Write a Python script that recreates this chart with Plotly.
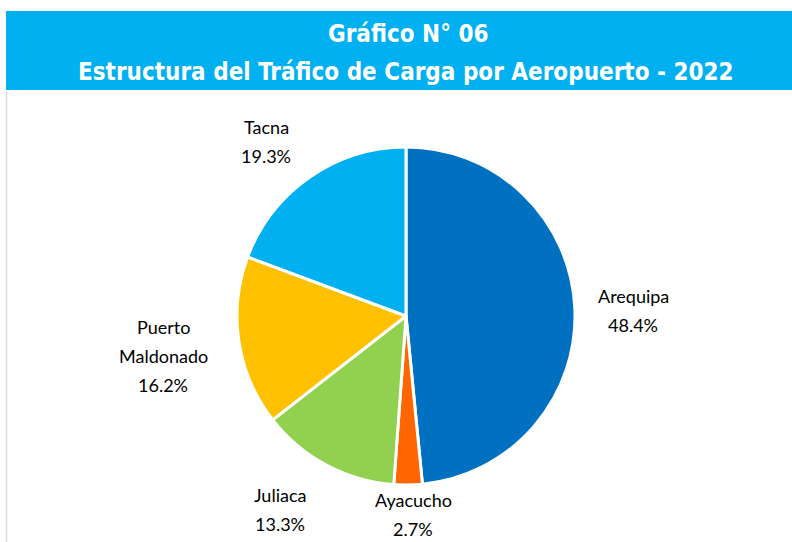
import plotly.graph_objects as go

labels = ["Arequipa", "Ayacucho", "Juliaca", "Puerto<br>Maldonado", "Tacna"]
values = [48.4, 2.7, 13.3, 16.2, 19.3]
colors = ["#0070C0", "#FF6600", "#92D050", "#FFC000", "#00B0F0"]

W, H = 792, 542
cx, cy, r = 406, 316, 169

fig = go.Figure(go.Pie(
    labels=labels, values=values, sort=False, direction="clockwise", rotation=0,
    marker=dict(colors=colors, line=dict(color="white", width=3)),
    textinfo="none", hoverinfo="label+percent", showlegend=False,
    domain=dict(x=[(cx - r) / W, (cx + r) / W], y=[(H - cy - r) / H, (H - cy + r) / H]),
))

# (x centre, y of first line) in pixels from top-left
label_pos = [(633, 296), (413, 500), (280, 495), (163, 327), (266, 127)]
line_gap = 29
for lab, v, (x, y) in zip(labels, values, label_pos):
    lines = lab.split("<br>") + [f"{v:.1f}%"]
    for i, t in enumerate(lines):
        fig.add_annotation(x=x / W, y=1 - (y + i * line_gap) / H, xref="paper", yref="paper",
                           text=t, showarrow=False,
                           font=dict(family="Lato, Carlito, sans-serif", size=18, color="#000000"),
                           align="center", xanchor="center", yanchor="middle")

fig.add_shape(type="rect", xref="paper", yref="paper", x0=6 / W, x1=1, y0=1 - 90 / H, y1=1 - 11 / H,
              fillcolor="#00B0F0", line=dict(width=0), layer="below")
fig.add_shape(type="line", xref="paper", yref="paper", x0=6.5 / W, x1=6.5 / W, y0=0, y1=1 - 91 / H,
              line=dict(color="#D9D9D9", width=1.5))

title_font = dict(family="DejaVu Sans Condensed, Liberation Sans Narrow, Arial Narrow, sans-serif",
                  size=24, color="white")
fig.add_annotation(x=408 / W, y=1 - 34 / H, xref="paper", yref="paper", text="<b>Gráfico N° 06</b>",
                   showarrow=False, font=title_font, xanchor="center", yanchor="middle")
fig.add_annotation(x=406 / W, y=1 - 72 / H, xref="paper", yref="paper",
                   text="<b>Estructura del Tráfico de Carga por Aeropuerto - 2022</b>",
                   showarrow=False, font=title_font, xanchor="center", yanchor="middle")

fig.update_layout(width=W, height=H, margin=dict(l=0, r=0, t=0, b=0),
                  paper_bgcolor="white", plot_bgcolor="white")
fig.write_html("out.html", config={"displayModeBar": False},
               post_script="document.body.style.margin='0';document.body.style.overflow='hidden';")
